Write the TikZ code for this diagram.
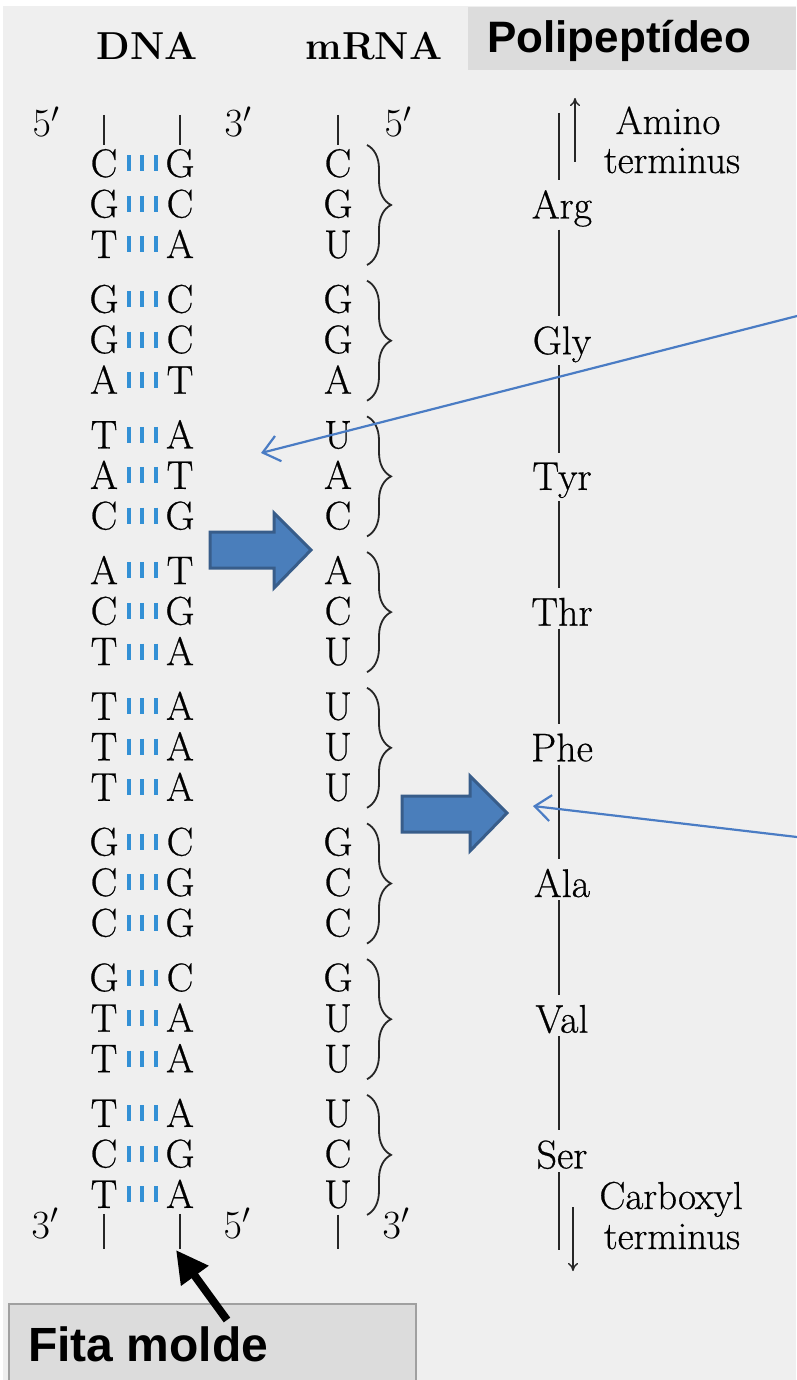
\RequirePackage{fix-cm}
\documentclass[tikz,border=0pt]{standalone}
\usepackage{fontspec}
\newfontfamily\sansbold{Liberation Sans}
\newfontfamily\rmheavy{Latin Modern Roman}[FakeBold=0.6]
\usetikzlibrary{decorations.pathreplacing,arrows.meta,calc}
\definecolor{bgc}{HTML}{EFEFEF}
\definecolor{boxc}{HTML}{DCDCDC}
\definecolor{boxline}{HTML}{A0A0A0}
\definecolor{bpc}{HTML}{3390D5}
\definecolor{blockfill}{HTML}{4A7EBB}
\definecolor{blockline}{HTML}{385D8A}
\definecolor{thinc}{HTML}{4A7CC4}
\newcommand{\serifsz}{\rmheavy\fontsize{40}{44}\selectfont}
\newcommand{\termsz}{\rmheavy\fontsize{39}{42}\selectfont}
\begin{document}
\begin{tikzpicture}[x=1pt,y=-1pt,
  txt/.style={inner sep=0pt, outer sep=0pt, anchor=base, font=\serifsz},
  termtxt/.style={inner sep=0pt, outer sep=0pt, anchor=base, font=\termsz},
  hdr/.style={inner sep=0pt, anchor=base, font=\fontsize{39}{43}\selectfont\bfseries},
  sanshdr/.style={inner sep=0pt, anchor=base west, font=\sansbold\bfseries\fontsize{44}{48}\selectfont},
  strand/.style={line width=1.6pt, black!85},
  bpbar/.style={line width=4pt, bpc},
  codon/.style={decorate, decoration={brace, amplitude=24pt}, line width=1.8pt, black!85},
  chain/.style={line width=1.6pt, black!85},
  termarrow/.style={line width=1.4pt, black!85, -{To[length=8pt,width=10pt]}},
  blockarrow/.style={fill=blockfill, draw=blockline, line width=3pt, line join=miter},
  thinarrow/.style={thinc, line width=2.2pt, -{Straight Barb[length=16pt,width=26pt]}},
  moldarrow/.style={line width=8pt, -{Triangle[length=32pt,width=32pt]}},
]
\useasboundingbox (0,0) rectangle (796,1380);
\fill[white] (0,0) rectangle (796,1380);
\fill[bgc] (3,6) rectangle (796,1380);
\fill[boxc] (468,7) rectangle (796,70);

% headers
\node[hdr] (hdna) at (147,60) {DNA};
\node[hdr] (hmrna) at (374,60) {mRNA};
\node[sanshdr] (hpoly) at (487,53) {Polipeptídeo};

% helper columns
\coordinate (bx1) at (129,0);
\coordinate (bx2) at (142,0);
\coordinate (bx3) at (156,0);
\coordinate (bcol) at (367,0);
\coordinate (pcol) at (559,0);

% rows
\foreach \i/\l/\r/\m in {0/C/G/C,1/G/C/G,2/T/A/U,3/G/C/G,4/G/C/G,5/A/T/A,6/T/A/U,7/A/T/A,8/C/G/C,9/A/T/A,10/C/G/C,11/T/A/U,12/T/A/U,13/T/A/U,14/T/A/U,15/G/C/G,16/C/G/C,17/C/G/C,18/G/C/G,19/T/A/U,20/T/A/U,21/T/A/U,22/C/G/C,23/T/A/U}{
  \pgfmathsetmacro{\yy}{177+135.7*int(\i/3)+40.5*mod(\i,3)}
  \node[txt] (L\i) at (104,\yy) {\l};
  \node[txt] (R\i) at (180,\yy) {\r};
  \node[txt] (M\i) at (338,\yy) {\m};
  \foreach \bx in {bx1,bx2,bx3}
    \draw[bpbar] ($(L\i.east -| \bx)+(0,-8)$) -- ($(L\i.east -| \bx)+(0,8)$);
}

% strand ends
\coordinate (tDL) at (104,115);
\coordinate (tDR) at (180,115);
\coordinate (tM) at (338,115);
\coordinate (bDL) at (104,1249);
\coordinate (bDR) at (180,1249);
\coordinate (bM) at (338,1249);
\draw[strand, shorten >=4pt] (tDL) -- (L0.north -| tDL);
\draw[strand, shorten >=4pt] (tDR) -- (R0.north -| tDR);
\draw[strand, shorten >=4pt] (tM) -- (M0.north -| tM);
\draw[strand, shorten <=6pt] (L23.south -| bDL) -- (bDL);
\draw[strand, shorten <=6pt] (R23.south -| bDR) -- (bDR);
\draw[strand, shorten <=6pt] (M23.south -| bM) -- (bM);
\node[txt] (p1) at (46,137) {$5'$};
\node[txt] (p2) at (238,137) {$3'$};
\node[txt] (p3) at (398,137) {$5'$};
\node[txt] (q1) at (45,1238) {$3'$};
\node[txt] (q2) at (237,1238) {$5'$};
\node[txt] (q3) at (396,1238) {$3'$};

% codon braces
\foreach \g in {0,...,7}{
  \pgfmathtruncatemacro{\a}{3*\g}
  \pgfmathtruncatemacro{\b}{3*\g+2}
  \draw[codon] ($(M\a.base -| bcol)+(0,-32)$) -- ($(M\b.base -| bcol)+(0,7)$);
}

% amino acids
\foreach \g/\aa in {0/Arg,1/Gly,2/Tyr,3/Thr,4/Phe,5/Ala,6/Val,7/Ser}{
  \pgfmathtruncatemacro{\c}{3*\g+1}
  \node[txt] (A\g) at ($(M\c.base -| pcol)+(3,1)$) {\aa};
}
\coordinate (ptop) at (559,113);
\coordinate (pbot) at (559,1250);
\draw[chain, shorten >=10pt] (ptop) -- (A0.north -| ptop);
\foreach \g in {0,...,6}{
  \pgfmathtruncatemacro{\h}{\g+1}
  \draw[chain, shorten <=3pt, shorten >=10pt] (A\g.south -| ptop) -- (A\h.north -| ptop);
}
\draw[chain, shorten <=3pt] (A7.south -| ptop) -- (pbot);

% termini
\coordinate (am1) at (575,162);
\coordinate (am2) at (575,98);
\draw[termarrow] (am1) -- (am2);
\node[termtxt] (amino) at (668,134) {Amino};
\node[termtxt] (aterm) at (672,173) {terminus};
\coordinate (cx1) at (573,1207);
\coordinate (cx2) at (573,1271);
\draw[termarrow] (cx1) -- (cx2);
\node[termtxt] (carb) at (671,1209) {Carboxyl};
\node[termtxt] (cterm) at (672,1249) {terminus};

% block arrows
\draw[blockarrow] (210,532) -- (274,532) -- (274,513) -- (311,550) -- (274,588) -- (274,568) -- (210,568) -- cycle;
\draw[blockarrow] (402,796) -- (470,796) -- (470,776) -- (507,813) -- (470,851) -- (470,832) -- (402,832) -- cycle;

% thin arrows
\coordinate (ta1s) at (797,316);
\coordinate (ta1e) at (261,453);
\coordinate (ta2s) at (797,837);
\coordinate (ta2e) at (533,806);
\draw[thinarrow] (ta1s) -- (ta1e);
\draw[thinarrow] (ta2s) -- (ta2e);

% Fita molde
\node[fill=boxc, draw=boxline, line width=1.5pt, minimum width=407pt, minimum height=90pt, anchor=north west, inner sep=0pt] (fbox) at (8,1303) {};
\node[inner sep=0pt, anchor=base west, font=\sansbold\bfseries\fontsize{48}{52}\selectfont] (ftext) at (28,1361) {Fita molde};
\coordinate (fa1) at (227,1320);
\coordinate (fa2) at (176,1250);
\draw[moldarrow] (fa1) -- (fa2);
\end{tikzpicture}
\end{document}
